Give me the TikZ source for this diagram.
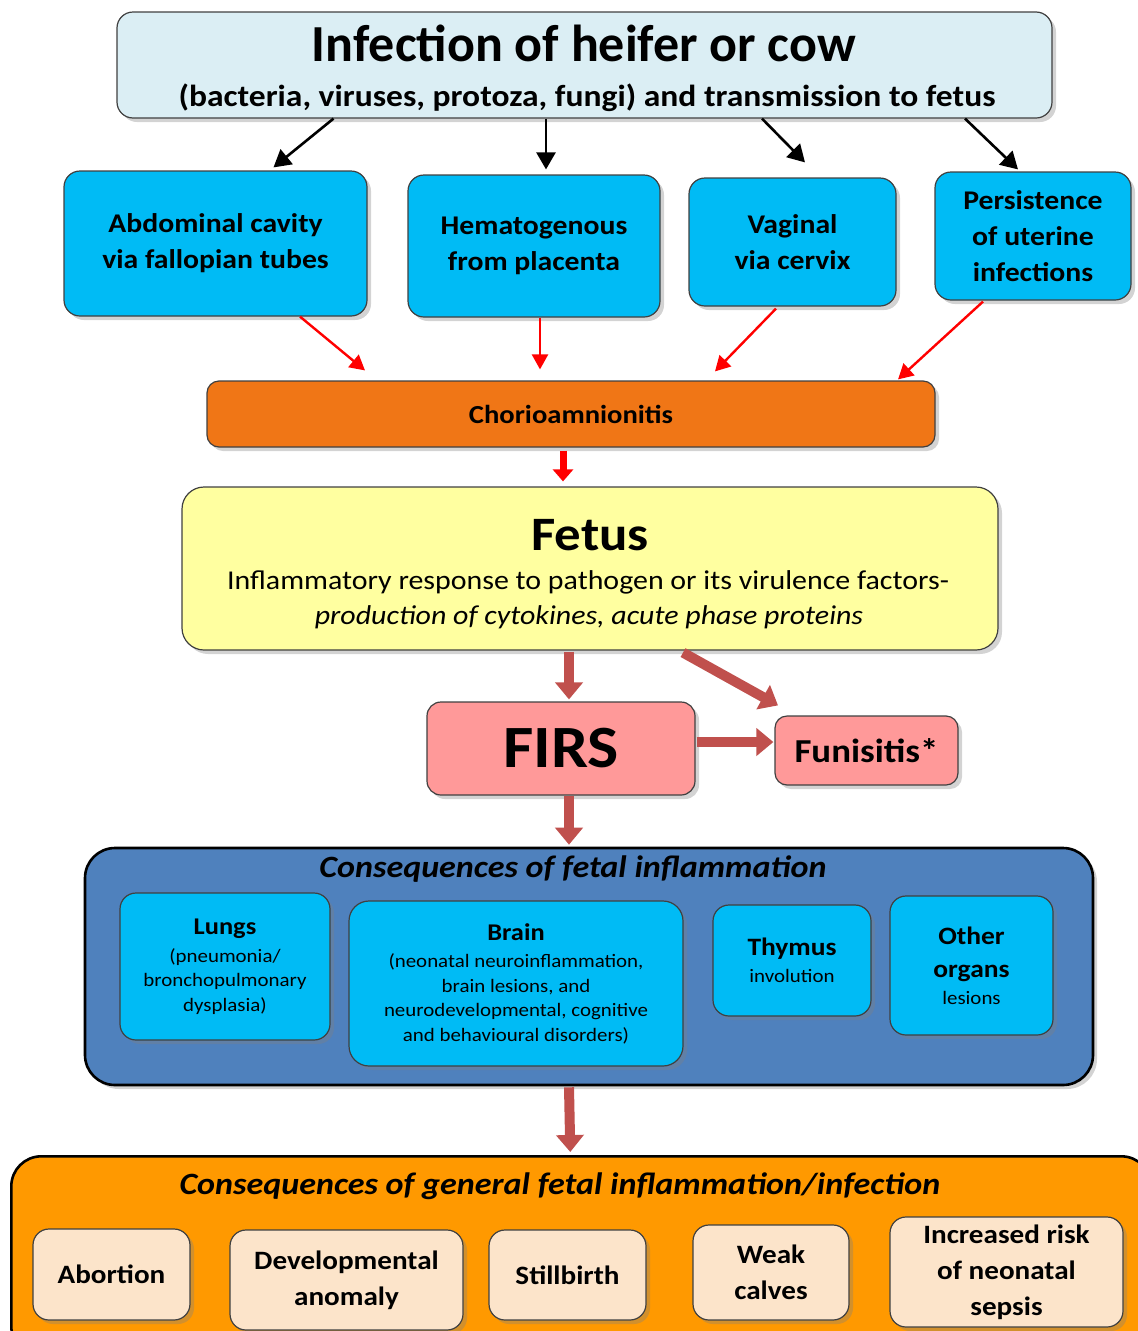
\documentclass[tikz,border=0pt]{standalone}
\usepackage{fontspec}
\setmainfont{Carlito}[FakeStretch=1.1]
\newfontfamily\titlefont{Carlito}
\usetikzlibrary{arrows.meta,shadows,calc}
\newcommand{\myfs}[2]{\fontsize{#1}{#2}\selectfont}
\definecolor{topfill}{RGB}{219,238,244}
\definecolor{cyanbox}{RGB}{0,187,245}
\definecolor{chorio}{RGB}{240,118,22}
\definecolor{fetfill}{RGB}{255,255,160}
\definecolor{pinkbox}{RGB}{255,153,153}
\definecolor{fatred}{RGB}{192,80,77}
\definecolor{contblue}{RGB}{79,129,189}
\definecolor{contorange}{RGB}{255,153,0}
\definecolor{peach}{RGB}{252,228,202}
\begin{document}
\begin{tikzpicture}[x=1pt,y=-1pt,
  box/.style={draw=black!75, line width=1.2pt, rounded corners=16pt, align=center, inner sep=0pt,
    drop shadow={shadow xshift=4pt, shadow yshift=-4pt, opacity=0.35}},
  blbox/.style={box, fill=cyanbox, font=\myfs{27}{36}\bfseries},
  inbox/.style={box, fill=cyanbox, font=\myfs{19}{24.5}},
  pchbox/.style={box, fill=peach, font=\myfs{26.5}{36}\bfseries},
  cont/.style={draw=black, line width=2.6pt, rounded corners=30pt,
    drop shadow={shadow xshift=4pt, shadow yshift=-4pt, opacity=0.35}},
  blk/.style={line width=2.6pt, -{Triangle[length=17pt,width=19pt]}},
  rd/.style={red, line width=2.4pt, -{Triangle[length=15pt,width=16pt]}},
  fat/.style={fatred, line width=10pt, -{Triangle[length=17pt,width=27pt]}},
  txt/.style={inner sep=0pt, align=center}
]
\useasboundingbox (0,0) rectangle (1138,1331);

% top
\node[box, fill=topfill, minimum width=935pt, minimum height=106pt] (top) at (584.5,65) {};
\node[txt, font=\titlefont\myfs{52}{60}\bfseries] (topt) at (584,43) {Infection of heifer or cow};
\node[txt, font=\myfs{30.5}{34}\bfseries] (tops) at (587,98) {(bacteria, viruses, protoza, fungi) and transmission to fetus};

% routes
\node[blbox, minimum width=303pt, minimum height=145pt] (abd) at (215.5,243.5) {Abdominal cavity\\via fallopian tubes};
\node[blbox, minimum width=252pt, minimum height=142pt] (hem) at (534,246) {Hematogenous\\from placenta};
\node[blbox, minimum width=207pt, minimum height=128pt] (vag) at (792.5,242) {Vaginal\\via cervix};
\node[blbox, minimum width=196pt, minimum height=128pt] (per) at (1033,236) {Persistence\\of uterine\\infections};

\draw[blk] ($(top.south)+(-251,0)$) -- ($(abd.north)+(58,-3)$);
\draw[blk] ($(top.south)+(-38.5,0)$) -- ($(hem.north)+(12,-5)$);
\draw[blk] ($(top.south)+(177.5,0)$) -- ($(vag.north)+(12.5,-15)$);
\draw[blk] ($(top.south)+(380.5,0)$) -- ($(per.north)+(-15,-2)$);

% chorio
\node[box, fill=chorio, minimum width=728pt, minimum height=66pt, rounded corners=12pt, font=\myfs{26}{30}\bfseries] (cho) at (571,414) {Chorioamnionitis};

\draw[rd] ($(abd.south)+(84.5,0)$) -- ($(cho.north)+(-206,-10)$);
\draw[rd] ($(hem.south)+(6,0)$) -- ($(cho.north)+(-31,-11)$);
\draw[rd] ($(vag.south)+(-16.5,2)$) -- ($(cho.north)+(144,-9)$);
\draw[rd] ($(per.south)+(-50,1)$) -- ($(cho.north)+(327,-1)$);

% fetus
\node[box, fill=fetfill, minimum width=816pt, minimum height=163pt, rounded corners=22pt] (fet) at (590,568.5) {};
\node[txt, font=\myfs{48}{56}\bfseries] (fett) at (590,535) {Fetus};
\node[txt, font=\myfs{27.2}{32}] (fetl1) at (588,582) {Inflammatory response to pathogen or its virulence factors-};
\node[txt, font=\myfs{27.2}{32}\itshape] (fetl2) at (589,617) {production of cytokines, acute phase proteins};

\draw[red, line width=7pt, -{Triangle[length=12pt,width=20pt]}] ($(cho.south)+(-8,3)$) -- ($(fet.north)+(-27,-5)$);

% FIRS
\node[box, fill=pinkbox, minimum width=268pt, minimum height=93pt, rounded corners=14pt, font=\myfs{60}{70}\bfseries] (firs) at (561,748.5) {FIRS};
\node[box, fill=pinkbox, minimum width=183pt, minimum height=69pt, rounded corners=12pt, font=\myfs{33.5}{40}\bfseries] (funi) at (866.5,750.5) {Funisitis*};

\draw[fat] ($(fet.south)+(-21,1)$) -- ($(firs.north)+(8,-2)$);
\draw[fat] ($(fet.south)+(93,2)$) -- ($(funi.north)+(-88.5,-10)$);
\draw[fat] ($(firs.east)+(1,-6.5)$) -- ($(funi.west)+(-1,-8.5)$);

% blue container
\node[cont, fill=contblue, minimum width=1008pt, minimum height=237pt, inner sep=0pt] (bc) at (589,966.5) {};
\node[txt, font=\myfs{31}{36}\bfseries\itshape] (bct) at (573,869) {Consequences of fetal inflammation};
\draw[fat] ($(firs.south)+(8,0)$) -- ($(bc.north)+(-20,-2)$);

\node[inbox, minimum width=210pt, minimum height=147pt] (lun) at (225,966.5) {{\myfs{24}{30}\bfseries Lungs}\\[3pt](pneumonia/\\bronchopulmonary\\dysplasia)};
\node[inbox, minimum width=334pt, minimum height=165pt, rounded corners=20pt] (bra) at (516,983.5) {{\myfs{24}{30}\bfseries Brain}\\[3pt](neonatal neuroinflammation,\\brain lesions, and\\neurodevelopmental, cognitive\\and behavioural disorders)};
\node[inbox, minimum width=158pt, minimum height=111pt] (thy) at (792,960.5) {{\myfs{25}{30}\bfseries Thymus}\\[3pt]involution};
\node[inbox, minimum width=163pt, minimum height=139pt] (oth) at (971.5,965.5) {{\myfs{25}{34}\bfseries Other}\\[9pt]{\myfs{25}{34}\bfseries organs}\\[2pt]lesions};

% orange container
\node[cont, fill=contorange, minimum width=1140pt, minimum height=200pt, inner sep=0pt, anchor=north west] (oc) at (10,1155) {};
\draw[fat] ($(bc.south)+(-20,1)$) -- ($(oc.north)+(-11,-3)$);
\node[txt, font=\myfs{31}{36}\bfseries\itshape] (oct) at (560,1186) {Consequences of general fetal inflammation/infection};

\node[pchbox, minimum width=157pt, minimum height=91pt] (abo) at (111.5,1274.5) {Abortion};
\node[pchbox, minimum width=233pt, minimum height=100pt] (dev) at (346.5,1280) {Developmental\\anomaly};
\node[pchbox, minimum width=157pt, minimum height=90pt] (sti) at (567.5,1275) {Stillbirth};
\node[pchbox, minimum width=156pt, minimum height=95pt] (wea) at (771,1272.5) {Weak\\calves};
\node[pchbox, minimum width=233pt, minimum height=110pt] (inc) at (1006.5,1272) {Increased risk\\of neonatal\\sepsis};
\end{tikzpicture}
\end{document}
